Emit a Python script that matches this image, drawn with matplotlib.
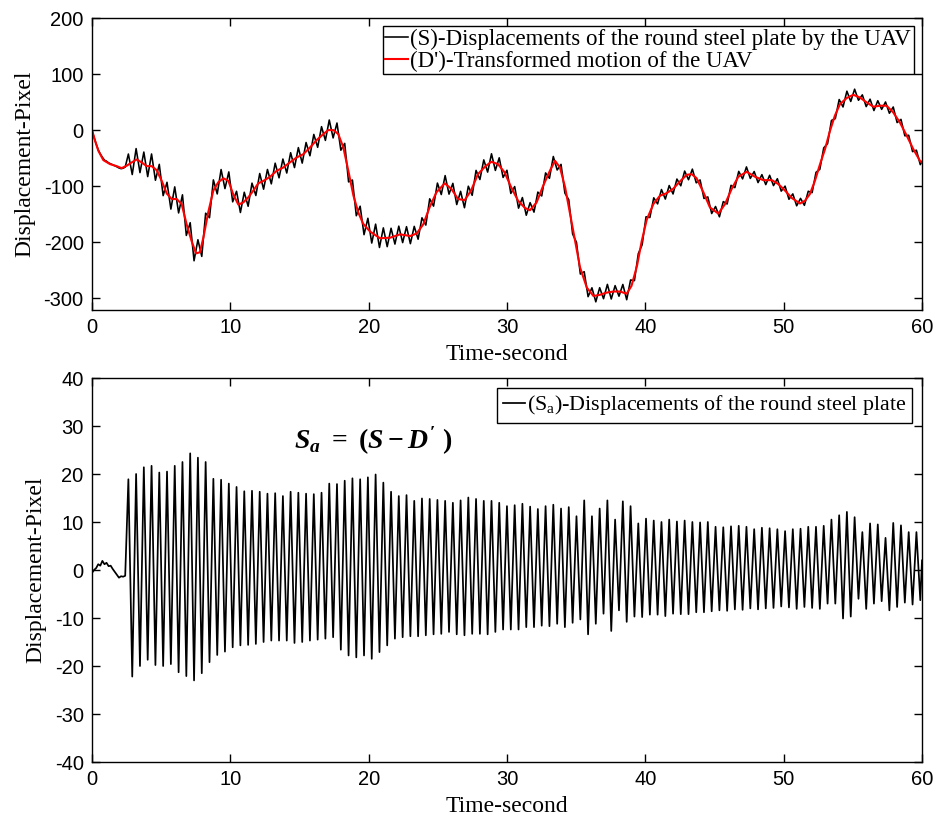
import numpy as np
import matplotlib
matplotlib.use("Agg")
import matplotlib.pyplot as plt

plt.rcParams['axes.unicode_minus'] = False
plt.rcParams['mathtext.fontset'] = 'custom'
plt.rcParams['mathtext.it'] = 'Liberation Serif:bold:italic'
plt.rcParams['mathtext.rm'] = 'Liberation Serif:bold'
plt.rcParams['mathtext.bf'] = 'Liberation Serif:bold'
plt.rcParams['mathtext.sf'] = 'Liberation Serif'

# ---------------- data ----------------
# D' (transformed UAV motion)
d_time = [0, 0.22, 0.46, 0.82, 1.3, 1.78, 2.14, 2.5, 2.87, 3.23, 3.59, 3.95, 4.31, 4.67,
          5.04, 5.4, 5.76, 6.12, 6.48, 6.84, 7.2, 7.52, 7.8, 8.05, 8.4, 8.77, 9.13, 9.5,
          9.86, 10.2, 10.58, 10.94, 11.3, 11.66, 12.02, 12.4, 12.87, 13.35, 13.83, 14.3,
          14.8, 15.28, 15.76, 16.24, 16.72, 17.08, 17.45, 17.8, 18.17, 18.53, 18.9, 19.25,
          19.6, 20.1, 20.82, 21.55, 22.27, 23.0, 23.47, 23.95, 24.4, 24.9, 25.5, 25.98,
          26.46, 26.94, 27.4, 27.9, 28.4, 28.86, 29.35, 29.83, 30.3, 30.8, 31.3, 31.66,
          32.14, 32.62, 33.1, 33.47, 33.83, 34.2, 34.56, 34.92, 35.28, 35.77, 36.25, 36.7,
          37.2, 37.7, 38.17, 38.65, 39.0, 39.4, 39.74, 40.1, 40.58, 41.06, 41.5, 42.0,
          42.5, 42.99, 43.35, 43.7, 44.2, 44.67, 45.28, 45.76, 46.24, 46.72, 47.33, 47.93,
          48.53, 49.14, 49.62, 50.1, 50.58, 51.18, 51.54, 51.9, 52.26, 52.63, 52.99, 53.35,
          53.7, 54.07, 54.55, 55.03, 55.5, 56.0, 56.48, 56.96, 57.44, 57.92, 58.4, 58.9,
          59.37, 59.85, 60.0]
d_value = [0, -19, -37, -53.6, -60.7, -64.3, -67.9, -63.7, -57.7, -52.4, -57.7, -64.3, -64.3,
           -71.4, -90.5, -113, -123, -123, -132, -168, -198, -220, -218, -192, -147, -108,
           -93, -86, -90.5, -114, -133, -129, -120, -108, -95, -90.5, -83.3, -72.6, -66.7,
           -57.7, -48.8, -42.9, -31, -17.9, -7.1, 0, 0, -7.1, -31, -72.6, -117, -147, -167,
           -181, -193, -192, -186, -189, -184.5, -168, -138, -111, -95, -105, -123, -125,
           -108, -78.6, -65.5, -56.5, -60.7, -75.6, -102, -126, -139, -143, -129, -99,
           -72.6, -54.8, -66.7, -102, -150, -198, -245, -281, -296, -294, -290, -288, -288,
           -292, -278, -242, -198, -160, -132, -117, -113, -105, -91.7, -79.8, -78.6, -85.7,
           -111, -138, -149, -132, -105, -83.3, -74.4, -83.3, -89.3, -89.3, -96.4, -108,
           -121, -131, -126, -114, -90.5, -60.7, -33.9, -1.2, 25.6, 46.4, 57.1, 63, 58.3,
           49.4, 41.7, 43.5, 43.5, 31.5, 13.7, -10.1, -33.9, -54.8, -58]

# S_a before the oscillation starts
pre_time = [0, 0.15, 0.3, 0.45, 0.6, 0.75, 0.9, 1.05, 1.2, 1.35, 1.5, 1.65, 1.8, 1.95,
            2.1, 2.25, 2.4]
pre_value = [-0.6, 0.0, 0.4, 1.2, 0.9, 1.9, 1.2, 1.5, 0.8, 0.9, 0.2, -0.4, -1.0, -1.6,
             -1.3, -1.4, -1.2]

# oscillation: first peak time and period
osc_start = 2.63
osc_period = 0.5585
# S_a peak values (one per cycle)
sa_peaks = [18.9, 20.0, 21.4, 21.7, 20.3, 20.5, 21.7, 22.5, 24.3, 23.4, 22.5, 19.0, 18.8,
            18.0, 17.3, 16.4, 16.5, 16.3, 15.9, 16.0, 15.4, 16.3, 16.1, 15.9, 15.8, 16.1,
            18.0, 17.9, 18.6, 19.1, 18.9, 19.3, 19.9,
            18.2, 16.3, 15.4, 15.6, 14.4, 14.9, 14.8, 14.6, 14.4, 14.0, 14.5, 15.1, 14.8,
            14.4, 14.4, 14.0, 13.3, 13.5, 13.8, 13.2, 12.7, 13.3, 13.6,
            12.8, 13.1, 11.2, 14.5, 11.2, 12.8, 14.5, 10.5, 14.3, 13.3, 9.7, 10.7, 10.3,
            10.0, 10.5, 10.1, 10.3, 10.0, 9.9, 10.0,
            9.0, 8.9, 9.1, 9.2, 9.0, 8.5, 8.8, 8.7, 8.5, 8.1,
            8.5, 8.6, 9.0, 9.0, 9.2, 10.5, 11.4, 12.1, 11.0, 7.9, 9.7, 9.5, 6.7, 9.8, 9.3,
            7.9, 7.9]
# S_a trough values (one per cycle, following each peak)
sa_troughs = [-22.2, -20.0, -18.7, -19.8, -20.0, -19.6, -21.3, -22.1, -23.0, -21.5, -19.2,
              -17.7, -17.0, -16.1, -15.7, -15.6, -15.4, -15.0, -14.7, -14.7, -14.7, -15.2,
              -15.0, -14.7, -14.5, -14.3, -14.0, -16.6, -17.8, -18.2, -17.8,
              -18.5, -17.1, -15.7, -14.3, -14.0, -13.8, -13.8, -13.6, -13.4, -13.3, -12.9,
              -13.4, -13.6, -13.3, -13.3, -13.4, -12.9, -12.4, -12.4, -12.4, -11.9, -11.9,
              -11.6, -11.7, -11.2,
              -11.9, -11.0, -10.3, -13.4, -11.2, -9.1, -12.7, -8.4, -10.8, -9.7, -9.8,
              -9.3, -9.3, -9.6, -9.1, -9.2, -9.2, -8.8, -8.8,
              -8.6, -8.4, -8.5, -8.2, -8.3, -8.0, -8.2, -8.0, -7.9, -7.6, -7.8,
              -8.1, -7.7, -7.9, -8.1, -7.0, -7.0, -10.1, -9.7, -6.0, -8.1, -7.0, -6.5,
              -8.4, -7.7, -6.8, -7.2, -6.3]
sa_end = (60.0, 2.0)

x_ticks = [0, 10, 20, 30, 40, 50, 60]
top_yticks = [-300, -200, -100, 0, 100, 200]
bot_yticks = [-40, -30, -20, -10, 0, 10, 20, 30, 40]

# ---------------- build series ----------------
n = len(sa_peaks)
k = np.arange(n)
t_peak = osc_start + k * osc_period
t_trough = t_peak + osc_period / 2
osc_t = np.empty(2 * n)
osc_v = np.empty(2 * n)
osc_t[0::2] = t_peak
osc_t[1::2] = t_trough
osc_v[0::2] = sa_peaks
osc_v[1::2] = sa_troughs
sa_t = np.concatenate([pre_time, osc_t])
sa_v = np.concatenate([pre_value, osc_v])
keep = sa_t < sa_end[0]
sa_t = np.append(sa_t[keep], sa_end[0])
sa_v = np.append(sa_v[keep], sa_end[1])

# S = D' + S_a
s_v = np.interp(sa_t, d_time, d_value) + sa_v

# ---------------- figure ----------------
fig = plt.figure(figsize=(9.41, 8.21), dpi=100)
W, H = 941, 821
ax1 = fig.add_axes([92 / W, 1 - 310 / H, 830 / W, 292 / H])
ax2 = fig.add_axes([92 / W, 1 - 762 / H, 830 / W, 384 / H])

label_font = dict(family='Liberation Serif', size=17)

ax1.plot(sa_t, s_v, color='black', lw=1.15, solid_joinstyle='round',
         label='(S)-Displacements of the round steel plate by the UAV')
ax1.plot(d_time, d_value, color='red', lw=1.5, solid_joinstyle='round',
         label="(D')-Transformed motion of the UAV")
ax1.set_xlim(0, 60)
ax1.set_ylim(-321, 200)
ax1.set_yticks(top_yticks)
ax1.set_xticks(x_ticks)

ax2.plot(sa_t, sa_v, color='black', lw=1.25, solid_joinstyle='round',
         label=r'(S$_{\mathsf{a}}$)-Displacements of the round steel plate')
ax2.set_xlim(0, 60)
ax2.set_ylim(-40, 40)
ax2.set_yticks(bot_yticks)
ax2.set_xticks(x_ticks)

for ax in (ax1, ax2):
    ax.tick_params(direction='in', length=6, width=1, top=True, right=True,
                   labelsize=14.5, pad=6)
    for lab in ax.get_xticklabels() + ax.get_yticklabels():
        lab.set_fontfamily('Liberation Sans')
    for sp in ax.spines.values():
        sp.set_linewidth(1.0)
    ax.set_xlabel('Time-second', **label_font, labelpad=5)
    ax.set_ylabel('Displacement-Pixel', **label_font, labelpad=6)

leg1 = ax1.legend(loc='upper right', bbox_to_anchor=(1, 1), borderaxespad=0.35,
                  prop={'family': 'Liberation Serif', 'size': 16.5}, frameon=True,
                  fancybox=False, edgecolor='black', framealpha=1,
                  handlelength=1.0, handletextpad=0.1, borderpad=0.12, labelspacing=0.02)
leg1.get_frame().set_linewidth(1.0)

leg2 = ax2.legend(loc='upper right', bbox_to_anchor=(1, 1), borderaxespad=0.45,
                  prop={'family': 'Liberation Serif', 'size': 15.8}, frameon=True,
                  fancybox=False, edgecolor='black', framealpha=1,
                  handlelength=1.0, handletextpad=0.1, borderpad=0.25)
leg2.get_frame().set_linewidth(1.0)

ax2.text(14.6, 27.0, r"$S_a\ =\ (S - D'\ )$", fontsize=20, ha='left', va='center')

fig.savefig('out.png', dpi=100)
